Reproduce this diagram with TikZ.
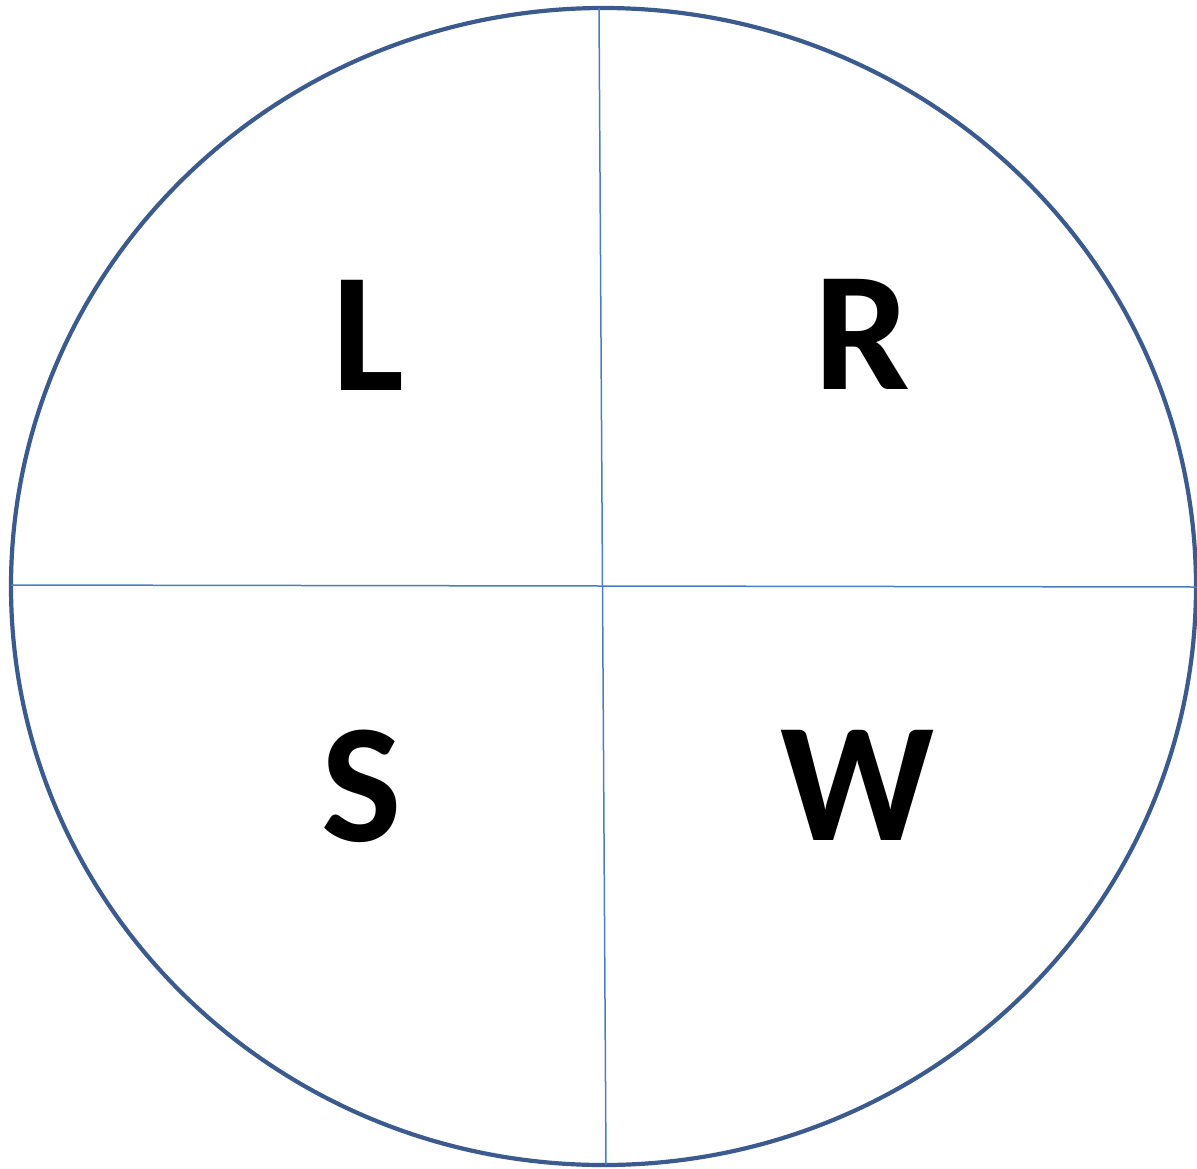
\documentclass[tikz,border=0pt]{standalone}
\usepackage{fontspec}
\setmainfont{Carlito}
\definecolor{rim}{HTML}{3B5B8E}
\definecolor{cross}{HTML}{4A7EC1}
\begin{document}
\begin{tikzpicture}[x=1pt,y=-1pt,
  letter/.style={anchor=base, font=\fontsize{170}{170}\selectfont\bfseries, inner sep=0pt}]
\useasboundingbox (0,0) rectangle (1197,1168);
\draw[rim, line width=4.2pt] (603.5,586.5) ellipse [x radius=592.5, y radius=578.5];
\coordinate (vt) at (599,8);
\coordinate (vb) at (606,1165);
\coordinate (hl) at (11,585);
\coordinate (hr) at (1197,587);
\draw[cross, line width=1.5pt] (vt) -- (vb);
\draw[cross, line width=1.5pt] (hl) -- (hr);
\node[letter] (L) at (368,390) {L};
\node[letter] (R) at (862,389) {R};
\node[letter] (S) at (362,841) {S};
\node[letter] (W) at (858,840) {W};
\end{tikzpicture}
\end{document}
